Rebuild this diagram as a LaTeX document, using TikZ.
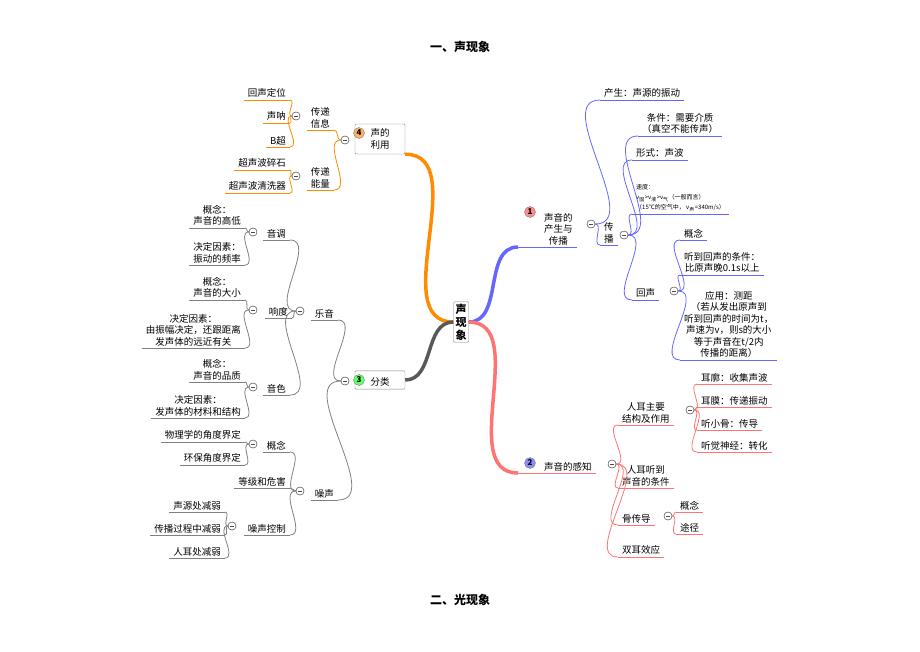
\documentclass[tikz,border=0pt]{standalone}
\usepackage{fontspec}
\setmainfont{Noto Sans CJK SC}
\begin{document}
\begin{tikzpicture}[x=1pt, y=-1pt,
    every node/.style={font=\fontsize{9.5}{11.5}\selectfont, align=center},
    leaf/.style={inner xsep=4pt, inner ysep=2pt,
      append after command={(\tikzlastnode.south west) edge[draw=#1, line width=0.8pt] (\tikzlastnode.south east)}},
    mk/.style={circle, draw=black!70, fill=white, inner sep=0pt, minimum size=8pt,
      path picture={\draw[black!70] ([xshift=2pt]path picture bounding box.west) -- ([xshift=-2pt]path picture bounding box.east);}},
    num/.style={circle, fill=#1, draw=black!50, inner sep=0pt, minimum size=11pt,
      font=\bfseries\fontsize{8}{8}\selectfont},
    lk/.style={draw=#1, line width=0.8pt},
    trunk/.style={draw=#1, line width=3.5pt},
    box/.style={draw=black!50, fill=white, rounded corners=1pt, inner sep=3pt}
  ]
  \colorlet{cb}{blue!60}
  \colorlet{cr}{red!55}
  \colorlet{co}{orange!90!yellow}
  \colorlet{cg}{black!50}
  \useasboundingbox (0,0) rectangle (920,651);

  % titles
  \node[font=\bfseries\fontsize{12}{14}\selectfont] (t1) at (460,47) {一、声现象};
  \node[font=\bfseries\fontsize{12}{14}\selectfont] (t2) at (460,600) {二、光现象};

  % root
  \node[box, font=\bfseries\fontsize{11}{13}\selectfont, inner sep=2pt] (root) at (461,322) {声\\现\\象};

  % branch 1
  \coordinate (b1s) at (518,247);
  \node[leaf=cb] (b1) [anchor=south west] at (540,247) {声音的\\产生与\\传播};
  \draw[lk=cb] (b1s) -- (b1.south west);
  \node[num=red!45] (n1) at (530,212) {1};
  \node[mk] (m1) at (591,224) {};
  \node[leaf=cb, anchor=south west] (p1) at (600,100) {产生：声源的振动};
  \node[leaf=cb, anchor=south west] (cb1) at (600,245) {传\\播};
  \node[mk] (m11) at (624,235) {};
  \node[leaf=cb, anchor=south west] (c1) at (638,136) {条件：需要介质\\（真空不能传声）};
  \node[leaf=cb, anchor=south west] (c2) at (632,160) {形式：声波};
  \node[leaf=cb, anchor=south west, align=left, font=\fontsize{6}{10}\selectfont] (c3) at (632,214)
    {速度：\\v\textsubscript{固}>v\textsubscript{液}>v\textsubscript{气}（一般而言）\\（15℃的空气中，\ v\textsubscript{声}=340m/s）};
  \node[leaf=cb, anchor=south west] (c4) at (632,300) {回声};
  \node[mk] (m12) at (674,291) {};
  \node[leaf=cb, anchor=south west] (d1) at (680,240) {概念};
  \node[leaf=cb, anchor=south west] (d2) at (680,275) {听到回声的条件：\\比原声晚0.1s以上};
  \node[leaf=cb, anchor=south west] (d3) at (680,360)
    {应用：测距\\（若从发出原声到\\听到回声的时间为t，\\声速为v，则s的大小\\等于声音在t/2内\\传播的距离）};

  % branch 2
  \coordinate (b2s) at (518,473);
  \node[leaf=cr, anchor=south west] (b2) at (540,473) {声音的感知};
  \draw[lk=cr] (b2s) -- (b2.south west);
  \node[num=blue!45] (n2) at (530,463) {2};
  \node[mk] (m2) at (612,464) {};
  \node[leaf=cr, anchor=south west] (e1) at (618,425) {人耳主要\\结构及作用};
  \node[mk] (m21) at (690,410) {};
  \node[leaf=cr, anchor=south west] (f1) at (697,384) {耳廓：收集声波};
  \node[leaf=cr, anchor=south west] (f2) at (697,407) {耳膜：传递振动};
  \node[leaf=cr, anchor=south west] (f3) at (697,430) {听小骨：传导};
  \node[leaf=cr, anchor=south west] (f4) at (697,452) {听觉神经：转化};
  \node[leaf=cr, anchor=south west] (e2) at (618,488) {人耳听到\\声音的条件};
  \node[leaf=cr, anchor=south west] (e3) at (618,525) {骨传导};
  \node[mk] (m22) at (668,516) {};
  \node[leaf=cr, anchor=south west] (g1) at (676,512) {概念};
  \node[leaf=cr, anchor=south west] (g2) at (676,534) {途径};
  \node[leaf=cr, anchor=south west] (e4) at (618,557) {双耳效应};

  % branch 4
  \node[box, minimum width=50pt, minimum height=30pt, text width=22pt] (b4) at (380,139) {声的\\利用};
  \node[num=orange!60] (n4) at (359,133) {4};
  \node[mk] (m4) at (345,140) {};
  \node[leaf=co, anchor=south east] (x1) at (334,130) {传递\\信息};
  \node[mk] (m41) at (296,116) {};
  \node[leaf=co, anchor=south east] (h1) at (290,100) {回声定位};
  \node[leaf=co, anchor=south east] (h2) at (290,123) {声呐};
  \node[leaf=co, anchor=south east] (h3) at (290,147) {B超};
  \node[leaf=co, anchor=south east] (x2) at (334,190) {传递\\能量};
  \node[mk] (m42) at (296,176) {};
  \node[leaf=co, anchor=south east] (h4) at (290,170) {超声波碎石};
  \node[leaf=co, anchor=south east] (h5) at (290,193) {超声波清洗器};

  % branch 3
  \node[box, minimum width=50pt, minimum height=18pt, text width=22pt] (b3) at (380,380) {\ \ 分类};
  \node[num=green!60] (n3) at (359,380) {3};
  \node[mk] (m3) at (345,381) {};
  \node[leaf=cg, anchor=south east] (y1) at (338,320) {乐音};
  \node[mk] (m31) at (300,311) {};
  \node[leaf=cg, anchor=south east] (k1) at (290,240) {音调};
  \node[mk] (mk1) at (253,232) {};
  \node[leaf=cg, anchor=south east] (l1) at (245,228) {概念：\\声音的高低};
  \node[leaf=cg, anchor=south east] (l2) at (245,265) {决定因素：\\振动的频率};
  \node[leaf=cg, anchor=south east] (k2) at (292,318) {响度};
  \node[mk] (mk2) at (253,310) {};
  \node[leaf=cg, anchor=south east] (l3) at (245,300) {概念：\\声音的大小};
  \node[leaf=cg, anchor=south east] (l4) at (245,348) {决定因素：\\由振幅决定，还跟距离\\发声体的远近有关};
  \node[leaf=cg, anchor=south east] (k3) at (290,395) {音色};
  \node[mk] (mk3) at (253,387) {};
  \node[leaf=cg, anchor=south east] (l5) at (245,382) {概念：\\声音的品质};
  \node[leaf=cg, anchor=south east] (l6) at (245,418) {决定因素：\\发声体的材料和结构};
  \node[leaf=cg, anchor=south east] (y2) at (338,500) {噪声};
  \node[mk] (m32) at (300,491) {};
  \node[leaf=cg, anchor=south east] (k4) at (290,452) {概念};
  \node[mk] (mk4) at (253,444) {};
  \node[leaf=cg, anchor=south east] (l7) at (245,442) {物理学的角度界定};
  \node[leaf=cg, anchor=south east] (l8) at (245,465) {环保角度界定};
  \node[leaf=cg, anchor=south east] (k5) at (290,488) {等级和危害};
  \node[leaf=cg, anchor=south east] (k6) at (290,535) {噪声控制};
  \node[mk] (mk6) at (232,526) {};
  \node[leaf=cg, anchor=south east] (l9) at (225,512) {声源处减弱};
  \node[leaf=cg, anchor=south east] (l10) at (225,535) {传播过程中减弱};
  \node[leaf=cg, anchor=south east] (l11) at (225,558) {人耳处减弱};

  % trunks
  \draw[trunk=cb] (root.east) to[out=0,in=180] (b1s);
  \draw[trunk=cr] (root.east) to[out=0,in=180] (b2s);
  \draw[trunk=co] (root.west) to[out=180,in=0] (b4.south east);
  \draw[trunk=black!65] (root.west) to[out=180,in=0] (b3.east);

  % right links
  \foreach \a/\b in {m1/p1, m1/cb1, m11/c1, m11/c2, m11/c3, m11/c4, m12/d1, m12/d2, m12/d3}
    \draw[lk=cb] (\a.east) to[out=0,in=180] (\b.south west);
  \foreach \a/\b in {m2/e1, m2/e2, m2/e3, m2/e4, m21/f1, m21/f2, m21/f3, m21/f4, m22/g1, m22/g2}
    \draw[lk=cr] (\a.east) to[out=0,in=180] (\b.south west);
  % left links
  \foreach \a/\b in {m4/x1, m4/x2, m41/h1, m41/h2, m41/h3, m42/h4, m42/h5}
    \draw[lk=co] (\a.west) to[out=180,in=0] (\b.south east);
  \foreach \a/\b in {m3/y1, m3/y2, m31/k1, m31/k2, m31/k3, mk1/l1, mk1/l2, mk2/l3, mk2/l4,
      mk3/l5, mk3/l6, m32/k4, m32/k5, m32/k6, mk4/l7, mk4/l8, mk6/l9, mk6/l10, mk6/l11}
    \draw[lk=cg] (\a.west) to[out=180,in=0] (\b.south east);
  % markers on top
  \foreach \m in {m1,m11,m12,m2,m21,m22,m4,m41,m42,m3,m31,m32,mk1,mk2,mk3,mk4,mk6}
    \node[mk] at (\m) {};
\end{tikzpicture}
\end{document}
